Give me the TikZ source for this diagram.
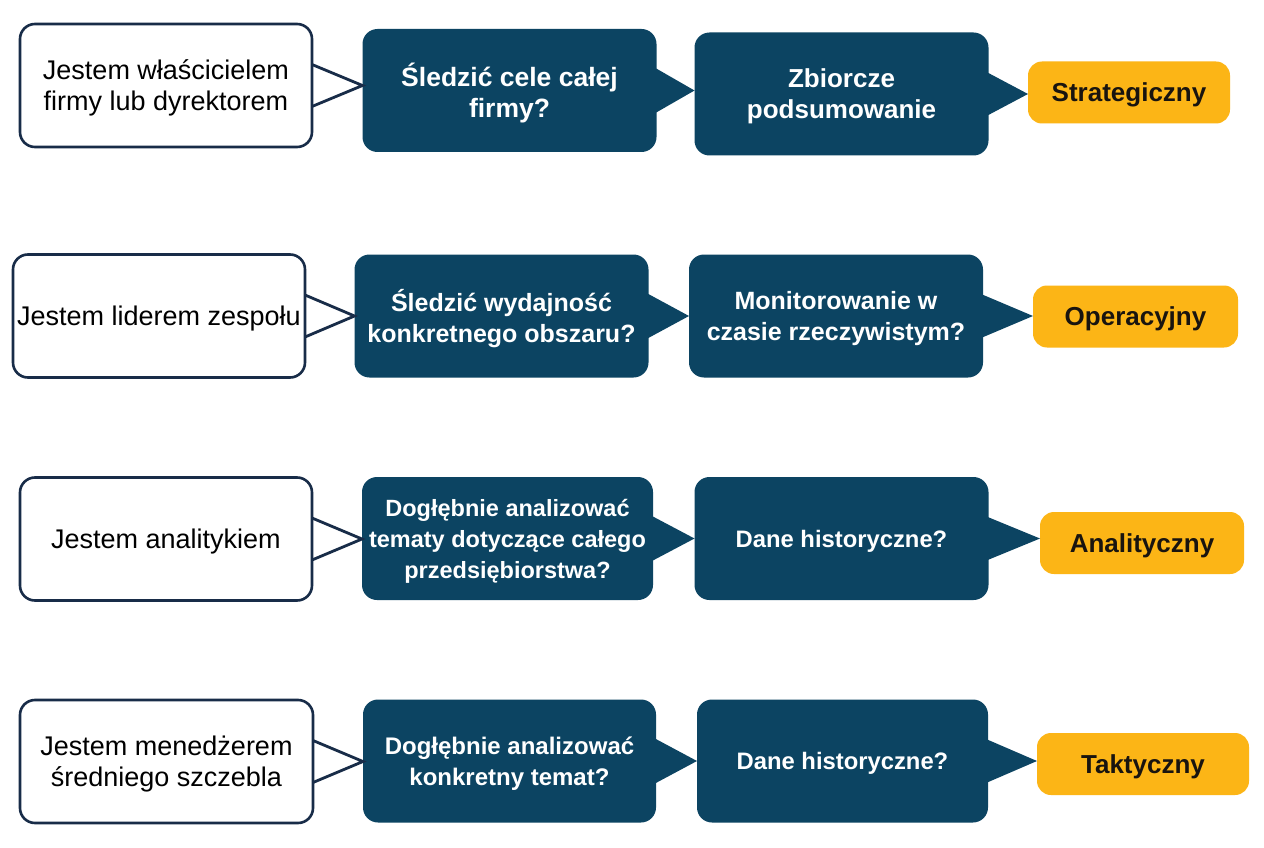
\documentclass[tikz,border=0pt]{standalone}
\usepackage{fontspec}
\setmainfont{Liberation Sans}
\usetikzlibrary{calc}
\definecolor{navy}{RGB}{12,68,98}
\definecolor{wborder}{RGB}{24,44,72}
\definecolor{gold}{RGB}{252,181,22}
\definecolor{ink}{RGB}{25,20,15}
\begin{document}
\begin{tikzpicture}[x=1pt,y=-1pt,
  base/.style={rounded corners=15pt, inner sep=0pt, outer sep=0pt, align=center, text depth=0pt},
  wbox/.style={base, draw=wborder, line width=2.6pt, fill=white, text=black,
    font=\fontsize{27}{31}\selectfont, minimum width=292pt, minimum height=123pt},
  bbox/.style={base, fill=navy, text=white,
    font=\bfseries\fontsize{#1}{31}\selectfont, minimum width=294pt, minimum height=123pt},
  bbox/.default=25,
  obox/.style={base, rounded corners=14pt, fill=gold, text=ink,
    font=\bfseries\fontsize{26}{31}\selectfont, minimum height=62pt},
  wtab/.style={draw=wborder, line width=2.8pt, line join=miter},
  btab/.style={fill=navy},
]
\useasboundingbox[fill=white] (0,0) rectangle (1264,848);

% Row 1
\node[wbox] (w1) at (166,85.5) {Jestem właścicielem\\firmy lub dyrektorem};
\node[bbox=26.5] (a1) at (509.5,90.5) {Śledzić cele całej\\firmy?};
\node[bbox=26] (b1) at (841.5,94) {Zbiorcze\\podsumowanie};
\node[obox, minimum width=202pt] (o1) at (1129,92.5) {Strategiczny};

% Row 2
\node[wbox] (w2) at (159,316) {Jestem liderem zespołu};
\node[bbox=25] (a2) at (501.5,316) {Śledzić wydajność\\konkretnego obszaru?};
\node[bbox=25] (b2) at (836,316) {Monitorowanie w\\czasie rzeczywistym?};
\node[obox, minimum width=205pt] (o2) at (1135.5,316.5) {Operacyjny};

% Row 3
\node[wbox] (w3) at (166,539) {Jestem analitykiem};
\node[bbox=23.5, minimum width=291pt] (a3) at (507.5,538.5) {Dogłębnie analizować\\tematy dotyczące całego\\przedsiębiorstwa?};
\node[bbox=23.8] (b3) at (841.5,538.5) {Dane historyczne?};
\node[obox, minimum width=204pt] (o3) at (1142,543) {Analityczny};

% Row 4
\node[wbox, minimum width=293pt] (w4) at (166.5,761.5) {Jestem menedżerem\\średniego szczebla};
\node[bbox=24, minimum width=293pt] (a4) at (509.5,761) {Dogłębnie analizować\\konkretny temat?};
\node[bbox=23.8, minimum width=291pt] (b4) at (842.5,761) {Dane historyczne?};
\node[obox, minimum width=212pt] (o4) at (1143,764) {Taktyczny};

% Tabs
\foreach \r in {1,2,3,4}{
  \draw[wtab] ($(w\r.east)+(0,-21)$) -- (a\r.west |- w\r.east) -- ($(w\r.east)+(0,21)$);
  \fill[btab] ($(a\r.east)+(-2,-23)$) -- (b\r.west |- a\r.east) -- ($(a\r.east)+(-2,23)$) -- cycle;
  \fill[btab] ($(b\r.east)+(-2,-22)$) -- (o\r.west |- b\r.east) -- ($(b\r.east)+(-2,22)$) -- cycle;
}
\end{tikzpicture}
\end{document}
